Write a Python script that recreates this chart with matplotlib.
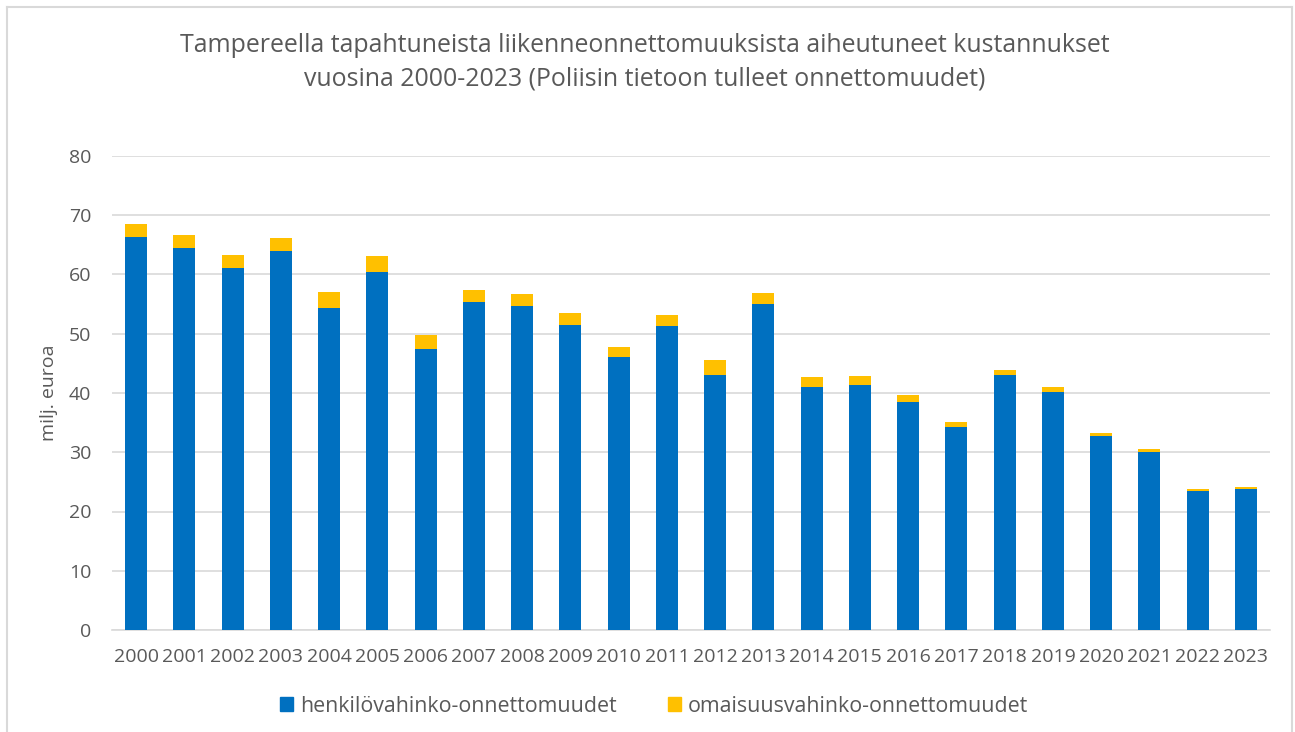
import matplotlib
matplotlib.use('Agg')
import matplotlib.pyplot as plt
from matplotlib.lines import Line2D
from matplotlib.patches import Patch

# Data (milj. euroa)
years = [str(y) for y in range(2000, 2024)]
henkilo = [66.3, 64.5, 61.1, 63.9, 54.3, 60.4, 47.5, 55.3, 54.65, 51.45, 46.0, 51.3,
           43.1, 55.0, 41.0, 41.35, 38.4, 34.3, 43.0, 40.2, 32.7, 30.05, 23.5, 23.8]
total = [68.5, 66.6, 63.25, 66.1, 57.0, 63.1, 49.8, 57.35, 56.7, 53.5, 47.8, 53.1,
         45.5, 56.8, 42.65, 42.8, 39.65, 35.1, 43.8, 40.95, 33.3, 30.5, 23.8, 24.15]
omaisuus = [round(t - h, 2) for t, h in zip(total, henkilo)]

blue = '#0070C0'
yellow = '#FFC000'
grey_text = '#595959'
grid_col = '#D9D9D9'

plt.rcParams['font.family'] = ['Open Sans', 'DejaVu Sans']

fig = plt.figure(figsize=(12.95, 7.32), dpi=100)
ax = fig.add_axes([112 / 1295, 1 - 630 / 732, 1158 / 1295, 474 / 732])

x = range(len(years))
ax.bar(x, henkilo, width=0.46, color=blue, label='henkilövahinko-onnettomuudet', zorder=3)
ax.bar(x, omaisuus, width=0.46, bottom=henkilo, color=yellow,
       label='omaisuusvahinko-onnettomuudet', zorder=3)

ax.set_xlim(-0.5, len(years) - 0.5)
ax.set_ylim(0, 80)
ax.set_yticks(range(0, 81, 10))
ax.set_xticks(list(x))
ax.set_xticklabels(years)
ax.yaxis.grid(True, color=grid_col, linewidth=1.2, zorder=0)
for s in ['top', 'right', 'left']:
    ax.spines[s].set_visible(False)
ax.spines['bottom'].set_color(grid_col)
ax.spines['bottom'].set_linewidth(1.2)
ax.tick_params(axis='both', length=0, labelsize=14, labelcolor=grey_text)
ax.tick_params(axis='x', pad=13)
ax.tick_params(axis='y', pad=15)
ax.set_ylabel('milj. euroa', fontsize=14, color=grey_text, labelpad=8)

fig.text(0.498, 1 - 46 / 732, 'Tampereella tapahtuneista liikenneonnettomuuksista aiheutuneet kustannukset',
         ha='center', va='center', fontsize=17.9, color=grey_text)
fig.text(0.498, 1 - 79 / 732, 'vuosina 2000-2023 (Poliisin tietoon tulleet onnettomuudet)',
         ha='center', va='center', fontsize=17.9, color=grey_text)

handles = [Patch(color=blue), Patch(color=yellow)]
fig.legend(handles, ['henkilövahinko-onnettomuudet', 'omaisuusvahinko-onnettomuudet'],
           loc='center', bbox_to_anchor=(0.505, 1 - 706 / 732), ncol=2, frameon=False,
           fontsize=15.4, labelcolor=grey_text, handlelength=0.62, handleheight=0.62,
           handletextpad=0.3, columnspacing=2.4)

# chart border
bc = '#D9D9D9'
fig.add_artist(Line2D([7 / 1295, 7 / 1295], [0, 1 - 7 / 732], color=bc, lw=1.5))
fig.add_artist(Line2D([7 / 1295, 1292 / 1295], [1 - 7 / 732, 1 - 7 / 732], color=bc, lw=1.5))
fig.add_artist(Line2D([1292 / 1295, 1292 / 1295], [0, 1 - 7 / 732], color=bc, lw=1.5))

fig.savefig('out.png', dpi=100)
